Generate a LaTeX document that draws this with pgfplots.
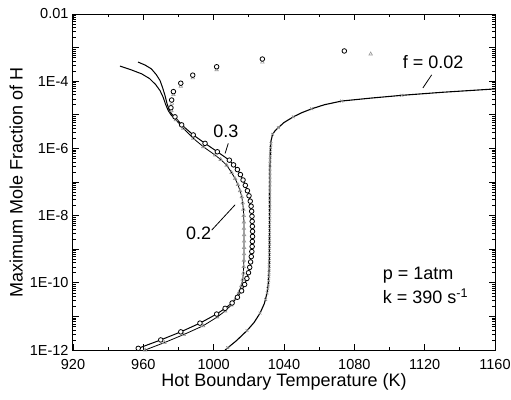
\documentclass[border=0pt]{standalone}
\usepackage{pgfplots}
\pgfplotsset{compat=1.18}
\usepackage{pgfplotstable}
\usepackage{fontspec}
\setmainfont{Liberation Sans}

% f = 0.02 line
\pgfplotstableread{
T ly
1006.5 -12.0
1013 -11.72
1019 -11.42
1023 -11.18
1026.4 -10.90
1028.8 -10.62
1030.4 -10.30
1031.2 -9.95
1031.6 -9.5
1031.8 -8.5
1031.9 -7.5
1032.0 -6.6
1032.2 -6.1
1032.6 -5.78
1033.5 -5.58
1035 -5.47
1036.8 -5.38
1040 -5.23
1045.3 -5.06
1050 -4.94
1055.8 -4.82
1063 -4.70
1072.8 -4.59
1090 -4.50
1107 -4.42
1130 -4.33
1160 -4.23
}\fzerotwoline

% f = 0.02 markers
\pgfplotstableread{
T ly
1008 -11.93
1019 -11.42
1026.4 -10.90
1029.6 -10.50
1030.4 -10.30
1030.8 -10.18
1031.1 -10.06
1031.3 -9.94
1031.4 -9.82
1031.5 -9.70
1031.6 -9.58
1031.6 -9.46
1031.7 -9.34
1031.7 -9.22
1031.7 -9.10
1031.8 -8.98
1031.8 -8.86
1031.8 -8.74
1031.8 -8.62
1031.8 -8.50
1031.8 -8.38
1031.8 -8.26
1031.9 -8.14
1031.9 -8.02
1031.9 -7.90
1031.9 -7.78
1031.9 -7.66
1031.9 -7.54
1031.9 -7.42
1031.9 -7.30
1031.9 -7.18
1032.0 -7.06
1032.0 -6.94
1032.0 -6.82
1032.0 -6.70
1032.0 -6.58
1032.0 -6.46
1032.1 -6.34
1032.2 -6.22
1032.3 -6.10
1032.4 -5.98
1032.6 -5.86
1033.5 -5.58
1036.8 -5.38
1045.3 -5.06
1055.8 -4.82
1072.8 -4.59
1107 -4.42
}\fzerotwomarks

% f = 0.3 lower branch (circles)
\pgfplotstableread{
T ly
957.1 -11.95
969.9 -11.70
981.3 -11.46
992.2 -11.20
1001.7 -10.93
1006.5 -10.76
1010.5 -10.60
1013.5 -10.43
1015.9 -10.24
1017.6 -10.05
1018.9 -9.87
1019.8 -9.70
1020.5 -9.54
1021.0 -9.38
1021.4 -9.22
1021.7 -9.07
1021.9 -8.92
1022.0 -8.77
1022.1 -8.62
1022.1 -8.47
1022.0 -8.32
1021.9 -8.17
1021.8 -8.02
1021.6 -7.87
1021.3 -7.72
1020.8 -7.57
1020.1 -7.41
1019.2 -7.26
1018.0 -7.10
1016.7 -6.94
1015.2 -6.78
1013.5 -6.63
1011.3 -6.49
1008.9 -6.35
1002.1 -6.10
995.1 -5.85
988.4 -5.60
981.8 -5.30
978.0 -5.06
}\fthreelow

% f = 0.3 upper line (no markers)
\pgfplotstableread{
T ly
978.0 -5.06
976.5 -5.00
974.8 -4.88
973.4 -4.65
972.3 -4.42
971.0 -4.20
969.5 -3.98
967.3 -3.80
964.5 -3.63
961.0 -3.52
957.0 -3.43
}\fthreetail

% f = 0.3 upper branch markers
\pgfplotstableread{
T ly
975.7 -4.79
976.1 -4.56
977.1 -4.31
981.3 -4.06
988.1 -3.82
1001.7 -3.57
1027.7 -3.34
1074.3 -3.10
}\fthreeup

% f = 0.2 lower branch (triangles)
\pgfplotstableread{
T ly
961.0 -12.0
972.0 -11.78
983.0 -11.54
994.0 -11.28
1002.0 -11.02
1006.5 -10.84
1010.0 -10.66
1012.5 -10.47
1014.4 -10.28
1015.7 -10.09
1016.5 -9.90
1016.9 -9.71
1017.1 -9.52
1017.2 -9.33
1017.3 -9.14
1017.3 -8.95
1017.3 -8.76
1017.3 -8.57
1017.2 -8.38
1017.2 -8.19
1017.1 -8.00
1016.9 -7.81
1016.5 -7.62
1016.0 -7.44
1015.0 -7.26
1013.8 -7.08
1012.2 -6.90
1010.2 -6.72
1007.4 -6.50
1004.0 -6.33
1000.8 -6.20
994.1 -5.95
988.4 -5.70
982.7 -5.40
978.5 -5.15
}\ftwolow

% f = 0.2 upper line (no markers)
\pgfplotstableread{
T ly
978.5 -5.15
976.0 -5.02
974.2 -4.88
972.6 -4.68
971.3 -4.48
969.5 -4.28
967.0 -4.10
963.5 -3.92
959.0 -3.78
953.0 -3.66
946.7 -3.55
}\ftwotail

% f = 0.2 upper branch markers
\pgfplotstableread{
T ly
976.0 -4.88
976.3 -4.66
977.1 -4.40
981.3 -4.15
988.1 -3.90
1001.7 -3.66
1027.7 -3.43
1089.3 -3.19
}\ftwoup

\begin{document}
\begin{tikzpicture}
\begin{axis}[
  scale only axis, width=422pt, height=336pt,
  xmin=920, xmax=1160, ymode=log, ymin=1e-12, ymax=1e-2,
  xtick={920,960,1000,1040,1080,1120,1160},
  xticklabels={920,960,1000,1040,1080,1120,1160},
  minor xtick={940,980,1020,1060,1100,1140},
  ytick={1e-12,1e-11,1e-10,1e-9,1e-8,1e-7,1e-6,1e-5,1e-4,1e-3,1e-2},
  yticklabels={1E-12,,1E-10,,1E-8,,1E-6,,1E-4,,0.01},
  minor ytick={2e-12,3e-12,4e-12,5e-12,6e-12,7e-12,8e-12,9e-12,
    2e-11,3e-11,4e-11,5e-11,6e-11,7e-11,8e-11,9e-11,
    2e-10,3e-10,4e-10,5e-10,6e-10,7e-10,8e-10,9e-10,
    2e-9,3e-9,4e-9,5e-9,6e-9,7e-9,8e-9,9e-9,
    2e-8,3e-8,4e-8,5e-8,6e-8,7e-8,8e-8,9e-8,
    2e-7,3e-7,4e-7,5e-7,6e-7,7e-7,8e-7,9e-7,
    2e-6,3e-6,4e-6,5e-6,6e-6,7e-6,8e-6,9e-6,
    2e-5,3e-5,4e-5,5e-5,6e-5,7e-5,8e-5,9e-5,
    2e-4,3e-4,4e-4,5e-4,6e-4,7e-4,8e-4,9e-4,
    2e-3,3e-3,4e-3,5e-3,6e-3,7e-3,8e-3,9e-3},
  tick align=inside,
  major tick length=6pt, minor tick length=3pt,
  tick style={black, line width=0.8pt},
  minor y tick style={line width=0.5pt},
  axis line style={line width=1pt},
  tick label style={font=\fontsize{14.5}{16}\selectfont},
  xticklabel style={yshift=-6pt},
  yticklabel style={xshift=-1pt},
  label style={font=\fontsize{18}{20}\selectfont},
  xlabel style={yshift=3pt},
  xlabel={Hot Boundary Temperature (K)},
  ylabel={Maximum Mole Fraction of H},
]
\addplot[black, line width=1.1pt, no marks] table[x=T, y expr=10^(\thisrow{ly})] {\fzerotwoline};
\addplot[only marks, mark=x, mark size=2pt, gray!90, mark options={line width=0.6pt}] table[x=T, y expr=10^(\thisrow{ly})] {\fzerotwomarks};

\addplot[black, line width=1pt, no marks] table[x=T, y expr=10^(\thisrow{ly})] {\ftwotail};
\addplot[black, line width=0.8pt, mark=triangle, mark size=2pt, mark options={gray!80, line width=0.6pt}] table[x=T, y expr=10^(\thisrow{ly})] {\ftwolow};
\addplot[only marks, mark=triangle, mark size=2pt, gray!80, mark options={line width=0.6pt}] table[x=T, y expr=10^(\thisrow{ly})] {\ftwoup};

\addplot[black, line width=1pt, no marks] table[x=T, y expr=10^(\thisrow{ly})] {\fthreetail};
\addplot[black, line width=1pt, mark=*, mark size=2.3pt, mark options={fill=white, draw=black, line width=0.8pt}] table[x=T, y expr=10^(\thisrow{ly})] {\fthreelow};
\addplot[only marks, mark=*, mark size=2.3pt, mark options={fill=white, draw=black, line width=0.8pt}] table[x=T, y expr=10^(\thisrow{ly})] {\fthreeup};

\node[font=\fontsize{18}{20}\selectfont] at (axis cs:1124.8,3.7e-4) {f = 0.02};
\draw[black, line width=0.8pt] (axis cs:1124,1.55e-4) -- (axis cs:1119,6.3e-5);
\node[font=\fontsize{18}{20}\selectfont] at (axis cs:1006.9,3.16e-6) {0.3};
\draw[black, line width=0.8pt] (axis cs:1008.3,1.41e-6) -- (axis cs:1006.5,7.1e-7);
\node[font=\fontsize{18}{20}\selectfont] at (axis cs:991.5,2.95e-9) {0.2};
\draw[black, line width=0.8pt] (axis cs:998.9,3.7e-9) -- (axis cs:1012.2,2.1e-8);
\node[font=\fontsize{18}{20}\selectfont, anchor=west] at (axis cs:1094.2,1.7e-10) {p = 1atm};
\node[font=\fontsize{18}{20}\selectfont, anchor=west] at (axis cs:1094.2,3.9e-11) {k = 390 s\textsuperscript{-1}};
\end{axis}
\pgfresetboundingbox
\path (current axis.south west) ++(-73pt,-49pt) rectangle ++(511pt,399pt);
\end{tikzpicture}
\end{document}
